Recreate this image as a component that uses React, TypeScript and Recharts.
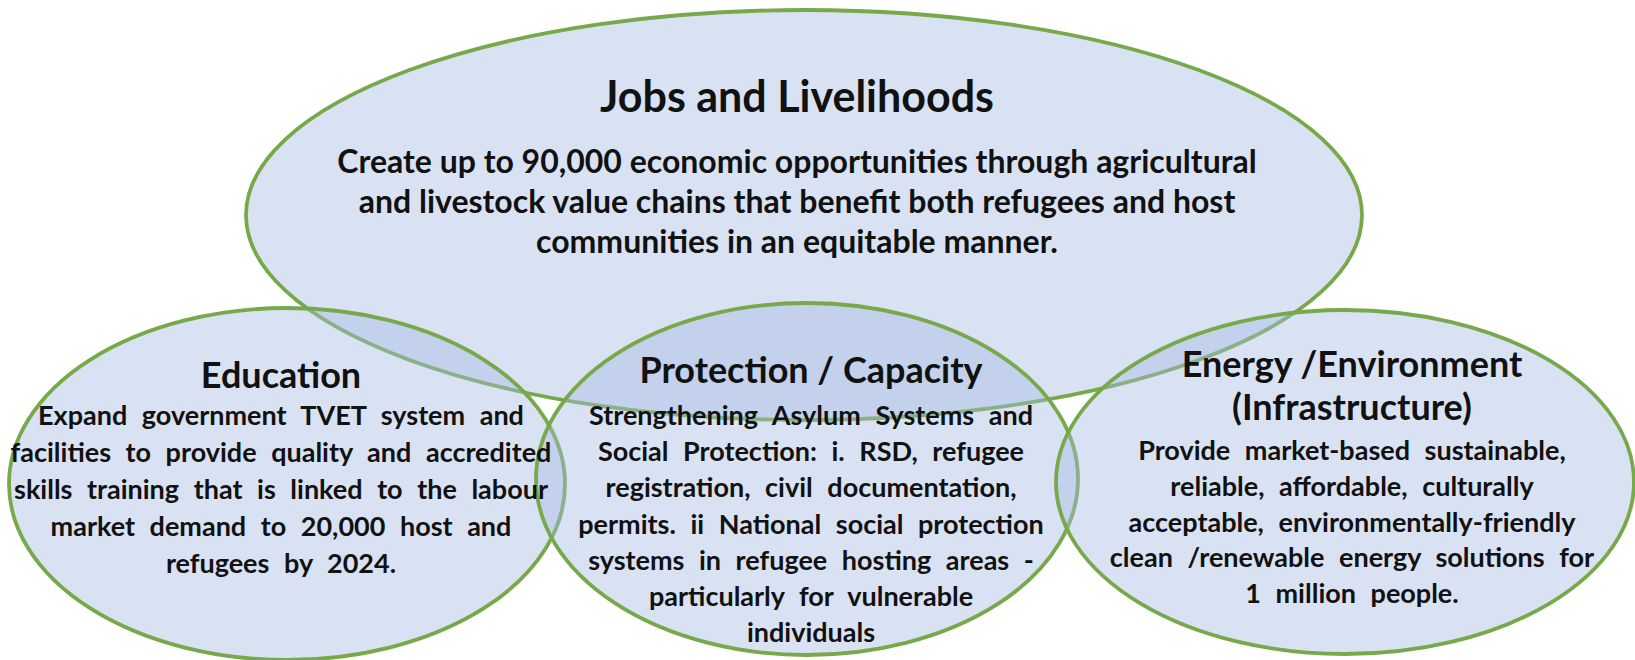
import React from 'react';
import { ScatterChart, Scatter, XAxis, YAxis } from 'recharts';

const CHART_W = 1635;
const CHART_H = 660;
// diagram units match the original picture's pixels
const X_MAX = 1635;
const Y_MAX = 660;
const SX = CHART_W / X_MAX;
const SY = CHART_H / Y_MAX;

// ellipses
const circleIds = ['jobs', 'education', 'protection', 'energy'];
const circleX = [804, 287, 807, 1345];
const circleY = [215, 484, 479, 482];
const circleRx = [558, 278, 271, 289];
const circleRy = [205, 176, 176, 172];

// text anchors (centre x, first title baseline)
const labelX = [797, 281, 811, 1352];
const labelY = [112, 388, 383, 377];

const titles = [
  ['Jobs and Livelihoods'],
  ['Education'],
  ['Protection / Capacity'],
  ['Energy /Environment', '(Infrastructure)'],
];

const jobsLines = [
  'Create up to 90,000 economic opportunities through agricultural',
  'and livestock value chains that benefit both refugees and host',
  'communities in an equitable manner.',
];
const educationLines = [
  'Expand government TVET system and',
  'facilities to provide quality and accredited',
  'skills training that is linked to the labour',
  'market demand to 20,000 host and',
  'refugees by 2024.',
];
const protectionLines = [
  'Strengthening Asylum Systems and',
  'Social Protection: i. RSD, refugee',
  'registration, civil documentation,',
  'permits. ii National social protection',
  'systems in refugee hosting areas -',
  'particularly for vulnerable',
  'individuals',
];
const energyLines = [
  'Provide market-based sustainable,',
  'reliable, affordable, culturally',
  'acceptable, environmentally-friendly',
  'clean /renewable energy solutions for',
  '1 million people.',
];
const bodies = [jobsLines, educationLines, protectionLines, energyLines];

const ellipseData = circleIds.map((id, i) => ({
  id,
  x: circleX[i],
  y: circleY[i],
  rx: circleRx[i],
  ry: circleRy[i],
}));

const labelData = circleIds.map((id, i) => ({
  id,
  x: labelX[i],
  y: labelY[i],
  title: titles[i],
  body: bodies[i],
}));

const FONT = 'Lato, "Open Sans", sans-serif';

// per-block text layout
const blockStyle: Record<string, any> = {
  jobs: { titleSize: 43, bodySize: 32, titleLH: 43, gap: 61, lineH: 40, ws: 0 },
  education: { titleSize: 36, bodySize: 27, titleLH: 43, gap: 37, lineH: 37, ws: 8 },
  protection: { titleSize: 36, bodySize: 27, titleLH: 43, gap: 42, lineH: 36.2, ws: 8 },
  energy: { titleSize: 36, bodySize: 27, titleLH: 43, gap: 40, lineH: 35.8, ws: 8 },
};

const EllipseShape = (props: any) => {
  const { cx, cy, payload } = props;
  return (
    <ellipse
      cx={cx}
      cy={cy}
      rx={payload.rx * SX}
      ry={payload.ry * SY}
      fill="#a5bae2"
      fillOpacity={0.42}
      stroke="#77a94a"
      strokeWidth={3.8}
    />
  );
};

const TextShape = (props: any) => {
  const { cx, cy, payload } = props;
  const st = blockStyle[payload.id];
  const lastTitle = cy + (payload.title.length - 1) * st.titleLH;
  return (
    <g>
      {payload.title.map((t: string, i: number) => (
        <text
          key={'t' + i}
          x={cx}
          y={cy + i * st.titleLH}
          textAnchor="middle"
          fontFamily={FONT}
          fontWeight={700}
          fontSize={st.titleSize}
          fill="#111"
        >
          {t}
        </text>
      ))}
      {payload.body.map((t: string, i: number) => (
        <text
          key={'b' + i}
          x={cx}
          y={lastTitle + st.gap + i * st.lineH}
          textAnchor="middle"
          fontFamily={FONT}
          fontWeight={700}
          fontSize={st.bodySize}
          style={{ wordSpacing: st.ws }}
          fill="#111"
        >
          {t}
        </text>
      ))}
    </g>
  );
};

export default function App() {
  return (
    <div style={{ position: 'absolute', left: 0, top: 0, width: CHART_W, height: CHART_H, background: '#fff' }}>
      <ScatterChart width={CHART_W} height={CHART_H} margin={{ top: 0, right: 0, bottom: 0, left: 0 }}>
        <XAxis type="number" dataKey="x" domain={[0, X_MAX]} hide allowDataOverflow />
        <YAxis type="number" dataKey="y" domain={[0, Y_MAX]} reversed hide allowDataOverflow />
        <Scatter data={ellipseData} shape={EllipseShape} isAnimationActive={false} />
        <Scatter data={labelData} shape={TextShape} isAnimationActive={false} />
      </ScatterChart>
    </div>
  );
}
